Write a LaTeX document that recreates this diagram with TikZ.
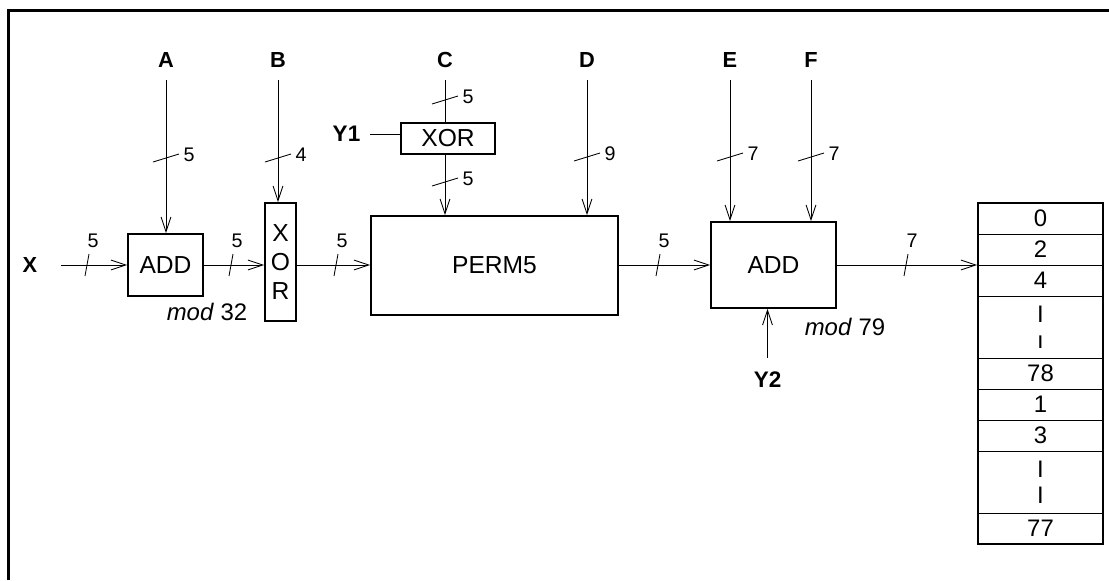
\documentclass[tikz,border=0pt]{standalone}
\usepackage{fontspec}
\setmainfont{Liberation Sans}
\usetikzlibrary{arrows.meta,positioning,fit}
\tikzset{
  blk/.style={draw,line width=1.3pt,inner sep=0pt,
    font=\fontsize{17.5}{20.3}\selectfont},
  sig/.style={line width=0.6pt},
  sarr/.style={sig,-{Straight Barb[length=10.5pt,width=7pt]}},
  lab/.style={font=\bfseries\fontsize{15.5}{17}\selectfont,inner xsep=1pt,inner ysep=8.7pt},
  ylab/.style={lab,font=\bfseries\fontsize{16}{18}\selectfont},
  num/.style={font=\fontsize{14}{16}\selectfont,inner sep=0pt},
  modlab/.style={font=\fontsize{17}{19}\selectfont,inner sep=0pt},
  cell/.style={draw,line width=0.6pt,outer sep=0pt,inner sep=0pt,
    minimum width=3.125cm,minimum height=0.775cm,
    font=\fontsize{17}{18.5}\selectfont},
  gapcell/.style={cell,minimum height=1.55cm,align=center},
  frame/.style={line width=2.1pt},
  pics/hbus/.style={code={\draw[sig] (-2,11) -- (2,-11); \node[num] at (6,-24) {#1};}},
  pics/vbus/.style={code={\draw[sig] (-13,4) -- (13,-4); \node[num] at (23,-3) {#1};}},
}

\begin{document}
\begin{tikzpicture}[x=0.025cm,y=-0.025cm]
  \useasboundingbox (0,0) rectangle (1109,580);
  \draw[frame] (8.5,580) |- (1109,10.5);

  % blocks
  \node[blk,minimum width=1.875cm,minimum height=1.55cm] (add1) at (165.5,265) {ADD};
  \node[blk,minimum width=0.775cm,minimum height=2.95cm,align=center] (xor1) at (280.5,262) {X\\O\\R};
  \node[blk,minimum width=2.35cm,minimum height=0.775cm] (xor2) at (448,138.5) {XOR};
  \node[blk,minimum width=6.175cm,minimum height=2.475cm] (perm) at (494.5,265.5) {PERM5};
  \node[blk,minimum width=3.125cm,minimum height=2.15cm] (add2) at (773.5,265) {ADD};

  \node[modlab] (mod1) at (207,312) {\textit{mod} 32};
  \node[modlab] (mod2) at (845,327) {\textit{mod} 79};

  % inputs
  \node[lab] (labA) at (166,60) {A};
  \node[lab] (labB) at (278,60) {B};
  \node[lab] (labC) at (445,60) {C};
  \node[lab] (labD) at (587,60) {D};
  \node[lab] (labE) at (730,60) {E};
  \node[lab] (labF) at (811,60) {F};
  \node[lab,inner xsep=16.8pt] (labX) at (30,265) {X};
  \node[ylab,inner xsep=6.9pt] (labY1) at (346.5,134) {Y1};
  \node[ylab,inner ysep=9.9pt] (labY2) at (767.5,380) {Y2};

  % table
  \node[cell] (r0) at (1040.5,218.5) {0};
  \node[cell,below=0pt of r0] (r2) {2};
  \node[cell,below=0pt of r2] (r4) {4};
  \node[gapcell,below=0pt of r4] (g1) {I\\ı};
  \node[cell,below=0pt of g1] (r78) {78};
  \node[cell,below=0pt of r78] (r1) {1};
  \node[cell,below=0pt of r1] (r3) {3};
  \node[gapcell,below=0pt of r3] (g2) {I\\I};
  \node[cell,below=0pt of g2] (r77) {77};
  \node[fit=(r0)(r77),draw,line width=1.3pt,inner sep=0pt] (tab) {};

  % signals
  \draw[sarr] (labX) -- (add1);
  \draw[sarr] (add1) -- (add1 -| xor1.west);
  \draw[sarr] (xor1.east |- add1) -- (add1 -| perm.west);
  \draw[sarr] (add2 -| perm.east) -- (add2.west);
  \draw[sarr] (add2.east) -- (add2 -| tab.west);
  \draw[sarr] (labA) -- (labA |- add1.north);
  \draw[sarr] (labB) -- (labB |- xor1.north);
  \draw[sig] (labC) -- (labC |- xor2.north);
  \draw[sarr] (labC |- xor2.south) -- (labC |- perm.north);
  \draw[sig] (labY1) -- (labY1 -| xor2.west);
  \draw[sarr] (labD) -- (labD |- perm.north);
  \draw[sarr] (labE) -- (labE |- add2.north);
  \draw[sarr] (labF) -- (labF |- add2.north);
  \draw[sarr] (labY2) -- (labY2 |- add2.south);

  % bus widths
  \pic at (87,265) {hbus=5};
  \pic at (231,265) {hbus=5};
  \pic at (336,265) {hbus=5};
  \pic at (658,265) {hbus=5};
  \pic at (906,265) {hbus=7};
  \pic at (166,158) {vbus=5};
  \pic at (278,158) {vbus=4};
  \pic at (445,100) {vbus=5};
  \pic at (445,182) {vbus=5};
  \pic at (587,157) {vbus=9};
  \pic at (730,157) {vbus=7};
  \pic at (811,157) {vbus=7};
\end{tikzpicture}
\end{document}
